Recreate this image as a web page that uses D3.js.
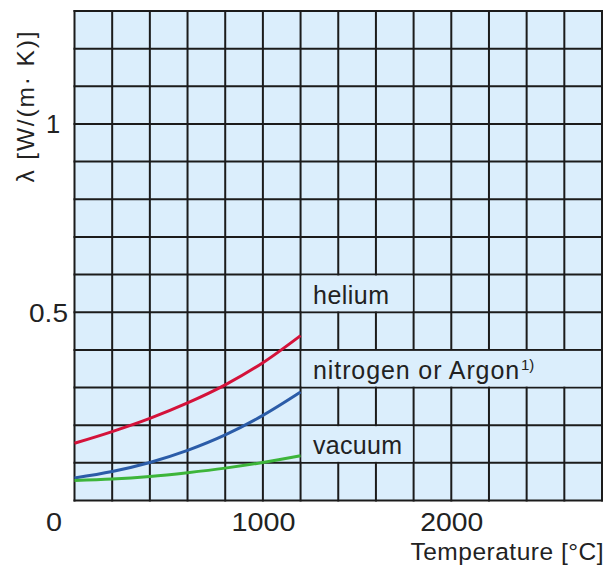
<!DOCTYPE html>
<html><head><meta charset="utf-8">
<script src="https://cdn.jsdelivr.net/npm/d3@7"></script>
<style>
html,body{margin:0;padding:0;background:#fff;}
text{font-family:"Liberation Sans",Arial,sans-serif;fill:#222;}
</style></head>
<body><svg id="c" width="606" height="569"></svg>
<script>
const temps = [0, 200, 400, 600, 800, 1000, 1200];
const helium = [0.152, 0.183, 0.218, 0.259, 0.307, 0.366, 0.438];
const nitrogen = [0.060, 0.077, 0.101, 0.133, 0.174, 0.226, 0.288];
const vacuum = [0.053, 0.057, 0.064, 0.074, 0.086, 0.101, 0.119];
const xTicks = [0, 1000, 2000];
const yTicks = [0.5, 1];
const seriesNames = ["helium", "nitrogen or Argon", "vacuum"];
const labelRows = [[0.5, 0.6], [0.3, 0.4], [0.1, 0.2]];
const labelCols = [[1200, 1800], [1200, 2800], [1200, 1800]];

const svg = d3.select("#c");
const x = d3.scaleLinear().domain([0, 2800]).range([74.5, 602]);
const y = d3.scaleLinear().domain([0, 1.3]).range([500.5, 11]);

const g = svg.append("g");
g.append("rect").attr("x", x(0)).attr("y", y(1.3)).attr("width", x(2800) - x(0)).attr("height", y(0) - y(1.3)).attr("fill", "#dbeefc");

const xs = d3.range(0, 2801, 200), ys = d3.range(0, 13.01, 1).map(d => d / 10);
g.selectAll(".vx").data(xs).join("line").attr("x1", d => x(d)).attr("x2", d => x(d)).attr("y1", y(0) + 1).attr("y2", y(1.3) - 1).attr("stroke", "#1b1b1b").attr("stroke-width", 2);
g.selectAll(".hy").data(ys).join("line").attr("x1", x(0) - 1).attr("x2", x(2800) + 1).attr("y1", d => y(d)).attr("y2", d => y(d)).attr("stroke", "#1b1b1b").attr("stroke-width", 2);

labelRows.forEach((r, i) => {
  const c = labelCols[i];
  g.append("rect").attr("x", x(c[0]) + 1).attr("width", x(c[1]) - x(c[0]) - 2)
    .attr("y", y(r[1]) + 1).attr("height", y(r[0]) - y(r[1]) - 2).attr("fill", "#dbeefc");
});

const line = d3.line().x((d, i) => x(temps[i])).y(d => y(d)).curve(d3.curveMonotoneX);
const colors = ["#d4123a", "#2b5ca8", "#3db53a"];
[helium, nitrogen, vacuum].forEach((s, i) => {
  g.append("path").attr("d", line(s)).attr("fill", "none").attr("stroke", colors[i]).attr("stroke-width", 3);
});

const labelLens = [76, 206, 89];
labelRows.forEach((r, i) => {
  const t = g.append("text").attr("x", x(labelCols[i][0]) + 12.5).attr("y", y(r[0]) - 8.5).attr("font-size", 25);
  t.append("tspan").attr("textLength", labelLens[i]).attr("lengthAdjust", "spacing").text(seriesNames[i]);
  if (i === 1) t.append("tspan").attr("font-size", 15).attr("dy", -9).attr("dx", 1).text("1)");
});

const xLens = {0: 16, 1000: 64, 2000: 63};
svg.selectAll(".xt").data(xTicks).join("text").attr("x", d => d === 0 ? x(d) - 20.5 : x(d) + 0.5).attr("y", 531)
  .attr("text-anchor", "middle").attr("font-size", 25.5).attr("textLength", d => xLens[d]).attr("lengthAdjust", "spacingAndGlyphs").text(d => d);
svg.selectAll(".yt").data(yTicks).join("text").attr("x", d => d === 1 ? 53 : 48.5).attr("y", d => y(d) + 9.5)
  .attr("text-anchor", "middle").attr("font-size", 25.5).attr("textLength", d => d === 1 ? null : 39).attr("lengthAdjust", "spacingAndGlyphs").text(d => d);

svg.append("text").attr("x", 603.5).attr("y", 560).attr("text-anchor", "end").attr("font-size", 24.5).attr("textLength", 193).attr("lengthAdjust", "spacing").text("Temperature [°C]");
svg.append("text").attr("transform", "translate(34,107) rotate(-90)").attr("text-anchor", "middle").attr("font-size", 24.5).attr("textLength", 151).attr("lengthAdjust", "spacing").text("λ [W/(m· K)]");
</script></body></html>
